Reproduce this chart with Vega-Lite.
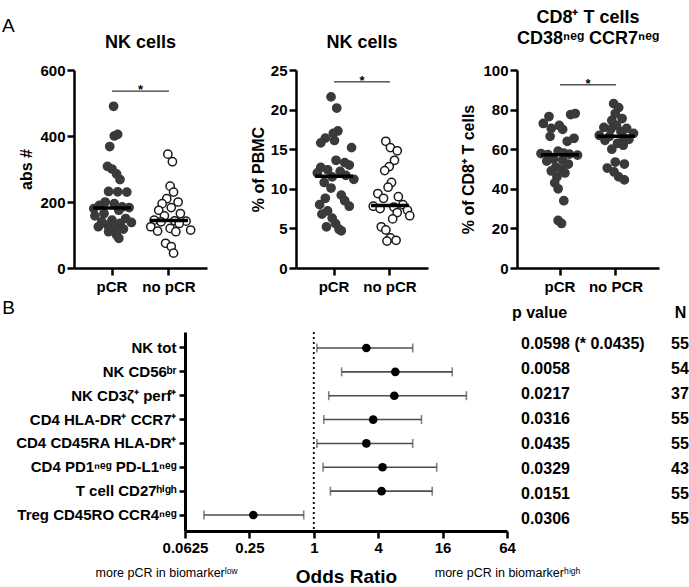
{
  "$schema": "https://vega.github.io/schema/vega-lite/v6.json",
  "padding": {"left": 1, "top": 9, "right": 0, "bottom": 0},
  "background": "white",
  "config": {
    "font": "Liberation Sans",
    "view": {"stroke": null},
    "axis": {"grid": false, "labelOverlap": false, "domainColor": "black", "domainWidth": 2.5, "tickColor": "black", "tickWidth": 2.5, "tickSize": 7, "labelFont": "Liberation Sans", "labelFontSize": 15, "labelFontWeight": "bold", "labelColor": "black", "titleFont": "Liberation Sans", "titleFontSize": 16, "titleFontWeight": "bold", "titleColor": "black"},
    "title": {"font": "Liberation Sans", "fontSize": 18, "fontWeight": "bold", "color": "black"}
  },
  "datasets": {
    "nk_abs": [
      {"group": "pCR", "v": 490, "j": 0.07}, {"group": "pCR", "v": 405, "j": 0.25}, {"group": "pCR", "v": 400, "j": 0.1}, {"group": "pCR", "v": 368, "j": -0.1},
      {"group": "pCR", "v": 308, "j": -0.2}, {"group": "pCR", "v": 300, "j": 0.0}, {"group": "pCR", "v": 285, "j": 0.2}, {"group": "pCR", "v": 268, "j": 0.35},
      {"group": "pCR", "v": 232, "j": -0.15}, {"group": "pCR", "v": 231, "j": 0.25}, {"group": "pCR", "v": 230, "j": 0.65}, {"group": "pCR", "v": 200, "j": -0.3},
      {"group": "pCR", "v": 195, "j": 0.1}, {"group": "pCR", "v": 190, "j": -0.55}, {"group": "pCR", "v": 185, "j": 0.45}, {"group": "pCR", "v": 183, "j": 0.75},
      {"group": "pCR", "v": 180, "j": -0.8}, {"group": "pCR", "v": 175, "j": 0.3}, {"group": "pCR", "v": 165, "j": -0.35}, {"group": "pCR", "v": 158, "j": -0.75},
      {"group": "pCR", "v": 150, "j": 0.6}, {"group": "pCR", "v": 145, "j": 0.0}, {"group": "pCR", "v": 140, "j": -0.45}, {"group": "pCR", "v": 138, "j": 0.85},
      {"group": "pCR", "v": 135, "j": 0.35}, {"group": "pCR", "v": 130, "j": -0.2}, {"group": "pCR", "v": 125, "j": -0.6}, {"group": "pCR", "v": 120, "j": 0.15},
      {"group": "pCR", "v": 118, "j": 0.5}, {"group": "pCR", "v": 110, "j": -0.15}, {"group": "pCR", "v": 100, "j": 0.2}, {"group": "pCR", "v": 90, "j": 0.3},
      {"group": "no pCR", "v": 345, "j": -0.05}, {"group": "no pCR", "v": 322, "j": 0.15}, {"group": "no pCR", "v": 248, "j": 0.05}, {"group": "no pCR", "v": 230, "j": 0.2},
      {"group": "no pCR", "v": 210, "j": -0.1}, {"group": "no pCR", "v": 200, "j": 0.4}, {"group": "no pCR", "v": 195, "j": -0.3}, {"group": "no pCR", "v": 183, "j": 0.1},
      {"group": "no pCR", "v": 175, "j": -0.45}, {"group": "no pCR", "v": 165, "j": 0.5}, {"group": "no pCR", "v": 158, "j": -0.2}, {"group": "no pCR", "v": 145, "j": -0.65},
      {"group": "no pCR", "v": 143, "j": 0.25}, {"group": "no pCR", "v": 142, "j": 0.75}, {"group": "no pCR", "v": 140, "j": -0.35}, {"group": "no pCR", "v": 135, "j": 0.45},
      {"group": "no pCR", "v": 125, "j": -0.8}, {"group": "no pCR", "v": 120, "j": 0.05}, {"group": "no pCR", "v": 115, "j": 0.95}, {"group": "no pCR", "v": 112, "j": -0.5},
      {"group": "no pCR", "v": 110, "j": 0.3}, {"group": "no pCR", "v": 75, "j": -0.15}, {"group": "no pCR", "v": 65, "j": 0.1}, {"group": "no pCR", "v": 45, "j": 0.2}
    ],
    "nk_pct": [
      {"group": "pCR", "v": 21.6, "j": -0.15}, {"group": "pCR", "v": 20.2, "j": 0.1}, {"group": "pCR", "v": 17.3, "j": 0.15}, {"group": "pCR", "v": 17.0, "j": -0.05},
      {"group": "pCR", "v": 16.4, "j": -0.4}, {"group": "pCR", "v": 16.1, "j": 0.0}, {"group": "pCR", "v": 15.8, "j": -0.6}, {"group": "pCR", "v": 15.2, "j": 0.75},
      {"group": "pCR", "v": 13.6, "j": 0.07}, {"group": "pCR", "v": 13.3, "j": 0.45}, {"group": "pCR", "v": 13.0, "j": 0.65}, {"group": "pCR", "v": 12.7, "j": -0.6},
      {"group": "pCR", "v": 12.4, "j": -0.3}, {"group": "pCR", "v": 12.2, "j": 0.25}, {"group": "pCR", "v": 12.0, "j": -0.75}, {"group": "pCR", "v": 11.7, "j": 0.5},
      {"group": "pCR", "v": 11.5, "j": -0.1}, {"group": "pCR", "v": 11.2, "j": 0.85}, {"group": "pCR", "v": 10.8, "j": -0.45}, {"group": "pCR", "v": 10.1, "j": -0.15},
      {"group": "pCR", "v": 9.2, "j": 0.3}, {"group": "pCR", "v": 8.8, "j": -0.4}, {"group": "pCR", "v": 8.5, "j": 0.45}, {"group": "pCR", "v": 8.0, "j": -0.65},
      {"group": "pCR", "v": 7.8, "j": 0.65}, {"group": "pCR", "v": 7.2, "j": -0.3}, {"group": "pCR", "v": 6.8, "j": -0.55}, {"group": "pCR", "v": 6.3, "j": -0.1},
      {"group": "pCR", "v": 5.6, "j": 0.05}, {"group": "pCR", "v": 5.2, "j": -0.35}, {"group": "pCR", "v": 4.9, "j": 0.2}, {"group": "pCR", "v": 4.7, "j": 0.3},
      {"group": "no pCR", "v": 16.0, "j": -0.2}, {"group": "no pCR", "v": 15.2, "j": 0.0}, {"group": "no pCR", "v": 14.8, "j": 0.3}, {"group": "no pCR", "v": 13.6, "j": 0.18},
      {"group": "no pCR", "v": 12.8, "j": -0.05}, {"group": "no pCR", "v": 12.3, "j": -0.25}, {"group": "no pCR", "v": 10.8, "j": 0.05}, {"group": "no pCR", "v": 10.2, "j": -0.1},
      {"group": "no pCR", "v": 9.4, "j": -0.55}, {"group": "no pCR", "v": 9.0, "j": 0.35}, {"group": "no pCR", "v": 8.8, "j": -0.3}, {"group": "no pCR", "v": 8.0, "j": 0.55},
      {"group": "no pCR", "v": 7.8, "j": -0.75}, {"group": "no pCR", "v": 7.7, "j": 0.15}, {"group": "no pCR", "v": 7.5, "j": -0.45}, {"group": "no pCR", "v": 7.3, "j": 0.75},
      {"group": "no pCR", "v": 7.0, "j": 0.3}, {"group": "no pCR", "v": 6.6, "j": 0.85}, {"group": "no pCR", "v": 6.2, "j": 0.1}, {"group": "no pCR", "v": 5.2, "j": -0.4},
      {"group": "no pCR", "v": 4.8, "j": -0.2}, {"group": "no pCR", "v": 3.8, "j": 0.0}, {"group": "no pCR", "v": 3.5, "j": 0.25}, {"group": "no pCR", "v": 3.4, "j": -0.15}
    ],
    "cd8": [
      {"group": "pCR", "v": 78, "j": 0.65}, {"group": "pCR", "v": 77.5, "j": 0.45}, {"group": "pCR", "v": 76.5, "j": -0.5}, {"group": "pCR", "v": 73, "j": -0.75},
      {"group": "pCR", "v": 72, "j": -0.05}, {"group": "pCR", "v": 70.5, "j": -0.4}, {"group": "pCR", "v": 70, "j": 0.1}, {"group": "pCR", "v": 66.5, "j": -0.45},
      {"group": "pCR", "v": 65.5, "j": 0.6}, {"group": "pCR", "v": 64, "j": 0.3}, {"group": "pCR", "v": 59, "j": -0.1}, {"group": "pCR", "v": 58, "j": 0.15},
      {"group": "pCR", "v": 57.8, "j": -0.85}, {"group": "pCR", "v": 57.5, "j": 0.4}, {"group": "pCR", "v": 57.3, "j": -0.55}, {"group": "pCR", "v": 57, "j": 0.75},
      {"group": "pCR", "v": 55, "j": -0.3}, {"group": "pCR", "v": 54.5, "j": 0.1}, {"group": "pCR", "v": 54, "j": -0.6}, {"group": "pCR", "v": 52.5, "j": 0.35},
      {"group": "pCR", "v": 51, "j": -0.2}, {"group": "pCR", "v": 50, "j": 0.05}, {"group": "pCR", "v": 49, "j": -0.4}, {"group": "pCR", "v": 48, "j": 0.2},
      {"group": "pCR", "v": 46, "j": -0.15}, {"group": "pCR", "v": 43, "j": -0.25}, {"group": "pCR", "v": 40, "j": -0.1}, {"group": "pCR", "v": 34, "j": 0.15},
      {"group": "pCR", "v": 24, "j": -0.1}, {"group": "pCR", "v": 22.5, "j": 0.05},
      {"group": "no PCR", "v": 83, "j": -0.12}, {"group": "no PCR", "v": 81, "j": 0.1}, {"group": "no PCR", "v": 78, "j": -0.05}, {"group": "no PCR", "v": 75.5, "j": 0.25},
      {"group": "no PCR", "v": 74.5, "j": -0.2}, {"group": "no PCR", "v": 72, "j": 0.0}, {"group": "no PCR", "v": 71, "j": -0.55}, {"group": "no PCR", "v": 70.5, "j": 0.45},
      {"group": "no PCR", "v": 70, "j": -0.25}, {"group": "no PCR", "v": 69, "j": 0.2}, {"group": "no PCR", "v": 68, "j": 0.75}, {"group": "no PCR", "v": 67, "j": -0.75},
      {"group": "no PCR", "v": 66.5, "j": -0.3}, {"group": "no PCR", "v": 66, "j": 0.3}, {"group": "no PCR", "v": 65, "j": 0.55}, {"group": "no PCR", "v": 64.5, "j": -0.5},
      {"group": "no PCR", "v": 63, "j": 0.05}, {"group": "no PCR", "v": 62, "j": 0.3}, {"group": "no PCR", "v": 60, "j": -0.2}, {"group": "no PCR", "v": 53.5, "j": -0.05},
      {"group": "no PCR", "v": 52.5, "j": 0.35}, {"group": "no PCR", "v": 50.5, "j": -0.4}, {"group": "no PCR", "v": 48.5, "j": -0.1}, {"group": "no PCR", "v": 46, "j": 0.1},
      {"group": "no PCR", "v": 44.5, "j": 0.35}
    ],
    "forest": [
      {"label": "NK tot", "or": 3.10, "lo": 1.07, "hi": 8.41, "p": "0.0598 (* 0.0435)", "n": "55"},
      {"label": "NK CD56ᵇʳ", "or": 5.78, "lo": 1.82, "hi": 19.7, "p": "0.0058", "n": "54"},
      {"label": "NK CD3ζ⁺ perf⁺", "or": 5.66, "lo": 1.38, "hi": 26.7, "p": "0.0217", "n": "37"},
      {"label": "CD4 HLA-DR⁺ CCR7⁺", "or": 3.59, "lo": 1.24, "hi": 10.15, "p": "0.0316", "n": "55"},
      {"label": "CD4 CD45RA HLA-DR⁺", "or": 3.10, "lo": 1.07, "hi": 8.41, "p": "0.0435", "n": "55"},
      {"label": "CD4 PD1ⁿᵉᵍ PD-L1ⁿᵉᵍ", "or": 4.39, "lo": 1.22, "hi": 14.1, "p": "0.0329", "n": "43"},
      {"label": "T cell CD27ʰⁱᵍʰ", "or": 4.30, "lo": 1.43, "hi": 12.8, "p": "0.0151", "n": "55"},
      {"label": "Treg CD45RO CCR4ⁿᵉᵍ", "or": 0.272, "lo": 0.094, "hi": 0.805, "p": "0.0306", "n": "55"}
    ]
  },
  "spacing": 5,
  "vconcat": [
    {
      "title": {"text": "A", "anchor": "start", "frame": "bounds", "fontWeight": "normal", "fontSize": 19, "offset": 0, "dx": -17, "dy": 27},
      "bounds": "flush",
      "spacing": 89,
      "hconcat": [
        {
          "width": 133, "height": 198,
          "title": {"text": "NK cells", "offset": 11, "frame": "group"},
          "data": {"name": "nk_abs"},
          "layer": [
            {"mark": {"type": "circle", "size": 68, "strokeWidth": 1.5, "opacity": 1},
             "encoding": {
               "x": {"field": "group", "type": "nominal", "scale": {"domain": ["pCR", "no pCR"], "paddingInner": 0.2, "paddingOuter": 0.267}, "axis": {"title": null, "labelAngle": 0, "labelPadding": 4}},
               "xOffset": {"field": "j", "type": "quantitative", "scale": {"domain": [-1, 1]}},
               "y": {"field": "v", "type": "quantitative", "scale": {"domain": [0, 600], "nice": false}, "axis": {"values": [0, 200, 400, 600], "tickCount": 4, "labelOverlap": false, "title": "abs #", "titlePadding": 5, "labelPadding": 2}},
               "fill": {"field": "group", "type": "nominal", "scale": {"domain": ["pCR", "no pCR"], "range": ["#3a3a3a", "#ffffff"]}, "legend": null},
               "stroke": {"field": "group", "type": "nominal", "scale": {"domain": ["pCR", "no pCR"], "range": ["#3a3a3a", "#1a1a1a"]}, "legend": null}
             }},
            {"mark": {"type": "tick", "color": "black", "size": 38, "thickness": 3.5, "opacity": 1},
             "encoding": {"x": {"field": "group", "type": "nominal"}, "y": {"field": "v", "type": "quantitative", "aggregate": "median", "axis": {"values": [0, 200, 400, 600], "tickCount": 4, "labelOverlap": false, "title": "abs #", "titlePadding": 5, "labelPadding": 2}}}},
            {"data": {"values": [{"g": "pCR", "v": 536}, {"g": "no pCR", "v": 536}]},
             "mark": {"type": "line", "color": "black", "strokeWidth": 1},
             "encoding": {"x": {"field": "g", "type": "nominal"}, "y": {"field": "v", "type": "quantitative", "axis": {"values": [0, 200, 400, 600], "tickCount": 4, "labelOverlap": false, "title": "abs #", "titlePadding": 5, "labelPadding": 2}}}},
            {"data": {"values": [{"g": "pCR", "v": 536}]},
             "mark": {"type": "text", "text": "*", "fontSize": 13, "fontWeight": "bold", "dx": 28.5, "dy": 3, "baseline": "alphabetic", "color": "black"},
             "encoding": {"x": {"field": "g", "type": "nominal"}, "y": {"field": "v", "type": "quantitative", "axis": {"values": [0, 200, 400, 600], "tickCount": 4, "labelOverlap": false, "title": "abs #", "titlePadding": 5, "labelPadding": 2}}}}
          ]
        },
        {
          "width": 132, "height": 198,
          "title": {"text": "NK cells", "offset": 11, "frame": "group"},
          "data": {"name": "nk_pct"},
          "layer": [
            {"mark": {"type": "circle", "size": 68, "strokeWidth": 1.5, "opacity": 1},
             "encoding": {
               "x": {"field": "group", "type": "nominal", "scale": {"domain": ["pCR", "no pCR"], "paddingInner": 0.2, "paddingOuter": 0.28}, "axis": {"title": null, "labelAngle": 0, "labelPadding": 4}},
               "xOffset": {"field": "j", "type": "quantitative", "scale": {"domain": [-1, 1]}},
               "y": {"field": "v", "type": "quantitative", "scale": {"domain": [0, 25], "nice": false}, "axis": {"values": [0, 5, 10, 15, 20, 25], "tickCount": 6, "labelOverlap": false, "title": "% of PBMC", "titlePadding": 4, "labelPadding": 2}},
               "fill": {"field": "group", "type": "nominal", "scale": {"domain": ["pCR", "no pCR"], "range": ["#3a3a3a", "#ffffff"]}, "legend": null},
               "stroke": {"field": "group", "type": "nominal", "scale": {"domain": ["pCR", "no pCR"], "range": ["#3a3a3a", "#1a1a1a"]}, "legend": null}
             }},
            {"mark": {"type": "tick", "color": "black", "size": 38, "thickness": 3.5, "opacity": 1},
             "encoding": {"x": {"field": "group", "type": "nominal"}, "y": {"field": "v", "type": "quantitative", "aggregate": "median", "axis": {"values": [0, 5, 10, 15, 20, 25], "tickCount": 6, "labelOverlap": false, "title": "% of PBMC", "titlePadding": 4, "labelPadding": 2}}}},
            {"data": {"values": [{"g": "pCR", "v": 23.5}, {"g": "no pCR", "v": 23.5}]},
             "mark": {"type": "line", "color": "black", "strokeWidth": 1},
             "encoding": {"x": {"field": "g", "type": "nominal"}, "y": {"field": "v", "type": "quantitative", "axis": {"values": [0, 5, 10, 15, 20, 25], "tickCount": 6, "labelOverlap": false, "title": "% of PBMC", "titlePadding": 4, "labelPadding": 2}}}},
            {"data": {"values": [{"g": "pCR", "v": 23.5}]},
             "mark": {"type": "text", "text": "*", "fontSize": 13, "fontWeight": "bold", "dx": 28, "dy": 3, "baseline": "alphabetic", "color": "black"},
             "encoding": {"x": {"field": "g", "type": "nominal"}, "y": {"field": "v", "type": "quantitative", "axis": {"values": [0, 5, 10, 15, 20, 25], "tickCount": 6, "labelOverlap": false, "title": "% of PBMC", "titlePadding": 4, "labelPadding": 2}}}}
          ]
        },
        {
          "width": 142, "height": 198,
          "title": {"text": ["CD8⁺ T cells", "CD38ⁿᵉᵍ CCR7ⁿᵉᵍ"], "offset": 15, "frame": "group", "lineHeight": 21},
          "data": {"name": "cd8"},
          "layer": [
            {"mark": {"type": "circle", "size": 68, "strokeWidth": 1.5, "opacity": 1},
             "encoding": {
               "x": {"field": "group", "type": "nominal", "scale": {"domain": ["pCR", "no PCR"], "paddingInner": 0.2, "paddingOuter": 0.368}, "axis": {"title": null, "labelAngle": 0, "labelPadding": 4}},
               "xOffset": {"field": "j", "type": "quantitative", "scale": {"domain": [-1, 1]}},
               "y": {"field": "v", "type": "quantitative", "scale": {"domain": [0, 100], "nice": false}, "axis": {"values": [0, 20, 40, 60, 80, 100], "tickCount": 6, "labelOverlap": false, "title": "% of CD8⁺ T cells", "titlePadding": 6, "labelPadding": 2}},
               "fill": {"field": "group", "type": "nominal", "scale": {"domain": ["pCR", "no PCR"], "range": ["#3a3a3a", "#ffffff"]}, "legend": null},
               "stroke": {"field": "group", "type": "nominal", "scale": {"domain": ["pCR", "no PCR"], "range": ["#3a3a3a", "#1a1a1a"]}, "legend": null}
             }},
            {"mark": {"type": "tick", "color": "black", "size": 38, "thickness": 3.5, "opacity": 1},
             "encoding": {"x": {"field": "group", "type": "nominal"}, "y": {"field": "v", "type": "quantitative", "aggregate": "median", "axis": {"values": [0, 20, 40, 60, 80, 100], "tickCount": 6, "labelOverlap": false, "title": "% of CD8⁺ T cells", "titlePadding": 6, "labelPadding": 2}}}},
            {"data": {"values": [{"g": "pCR", "v": 92.5}, {"g": "no PCR", "v": 92.5}]},
             "mark": {"type": "line", "color": "black", "strokeWidth": 1},
             "encoding": {"x": {"field": "g", "type": "nominal"}, "y": {"field": "v", "type": "quantitative", "axis": {"values": [0, 20, 40, 60, 80, 100], "tickCount": 6, "labelOverlap": false, "title": "% of CD8⁺ T cells", "titlePadding": 6, "labelPadding": 2}}}},
            {"data": {"values": [{"g": "pCR", "v": 92.5}]},
             "mark": {"type": "text", "text": "*", "fontSize": 13, "fontWeight": "bold", "dx": 28, "dy": 3, "baseline": "alphabetic", "color": "black"},
             "encoding": {"x": {"field": "g", "type": "nominal"}, "y": {"field": "v", "type": "quantitative", "axis": {"values": [0, 20, 40, 60, 80, 100], "tickCount": 6, "labelOverlap": false, "title": "% of CD8⁺ T cells", "titlePadding": 6, "labelPadding": 2}}}}
          ]
        }
      ]
    },
    {
      "bounds": "flush",
      "spacing": 0,
      "hconcat": [
        {
          "width": 111, "height": 199,
          "data": {"values": [{"s": 0}]},
          "mark": {"type": "point", "opacity": 0},
          "encoding": {}
        },
        {
          "width": 322, "height": 199,
          "title": {"text": "B", "anchor": "start", "frame": "bounds", "fontWeight": "normal", "fontSize": 19, "offset": 13, "dx": -13},
          "data": {"name": "forest"},
          "layer": [
            {
              "layer": [
                {"mark": {"type": "rule", "color": "#4d4d4d", "strokeWidth": 1.6},
                 "encoding": {
                   "x": {"field": "lo", "type": "quantitative", "scale": {"type": "log", "base": 2, "domain": [0.0625, 64]},
                         "axis": {"values": [0.0625, 0.25, 1, 4, 16, 64], "format": "~g", "title": "Odds Ratio", "titleFontSize": 19, "titlePadding": 12, "labelFlush": false, "labelOverlap": false, "labelBound": false, "labelPadding": 2, "domainWidth": 3}},
                   "x2": {"field": "hi"},
                   "y": {"field": "label", "type": "nominal", "sort": null, "scale": {"paddingInner": 0, "paddingOuter": 0.17},
                         "axis": {"title": null, "labelPadding": 3, "tickSize": 6, "domainWidth": 3, "labelLimit": 300}}
                 }},
                {"mark": {"type": "tick", "color": "#4d4d4d", "size": 9, "thickness": 1.6},
                 "encoding": {"x": {"field": "lo", "type": "quantitative"}, "y": {"field": "label", "type": "nominal", "sort": null}}},
                {"mark": {"type": "tick", "color": "#4d4d4d", "size": 9, "thickness": 1.6},
                 "encoding": {"x": {"field": "hi", "type": "quantitative"}, "y": {"field": "label", "type": "nominal", "sort": null}}},
                {"mark": {"type": "circle", "color": "black", "size": 75, "opacity": 1},
                 "encoding": {"x": {"field": "or", "type": "quantitative"}, "y": {"field": "label", "type": "nominal", "sort": null}}}
              ]
            },
            {
              "data": {"values": [{"r": 1}]},
              "mark": {"type": "rule", "color": "black", "strokeWidth": 1.8, "strokeDash": [2, 3]},
              "encoding": {
                "x": {"field": "r", "type": "quantitative", "scale": {"type": "log", "base": 2, "domain": [0.04153, 64], "range": [-19, 322]},
                      "axis": {"orient": "bottom", "values": [0.04153, 64], "labelExpr": "datum.value < 1 ? 'more pCR in biomarkerˡᵒʷ' : 'more pCR in biomarkerʰⁱᵍʰ'", "domain": false, "ticks": false, "labelFontWeight": "normal", "labelFontSize": 12.5, "labelPadding": 4, "offset": 31, "labelFlush": false, "labelOverlap": false, "labelBound": false, "title": null}}
              }
            }
          ],
          "resolve": {"scale": {"x": "independent"}}
        },
        {
          "width": 184, "height": 199,
          "data": {"name": "forest"},
          "layer": [
            {"mark": {"type": "text", "align": "left", "dx": -18, "fontSize": 16, "fontWeight": "bold", "color": "black"},
             "encoding": {
               "x": {"datum": 0, "type": "quantitative", "scale": {"domain": [-0.227, 1.078], "nice": false, "zero": false},
                     "axis": {"orient": "top", "values": [0, 1], "labelExpr": "datum.value == 0 ? 'p value' : 'N'", "domain": false, "ticks": false, "labelPadding": 12, "labelFontSize": 16, "labelFlush": false, "labelBound": false, "labelOverlap": false, "title": null}},
               "y": {"field": "label", "type": "nominal", "sort": null, "scale": {"paddingInner": 0, "paddingOuter": 0.17}, "axis": null},
               "text": {"field": "p"}
             }},
            {"mark": {"type": "text", "align": "center", "fontSize": 16, "fontWeight": "bold", "color": "black"},
             "encoding": {
               "x": {"datum": 1, "type": "quantitative"},
               "y": {"field": "label", "type": "nominal", "sort": null},
               "text": {"field": "n"}
             }}
          ]
        }
      ]
    }
  ]
}
